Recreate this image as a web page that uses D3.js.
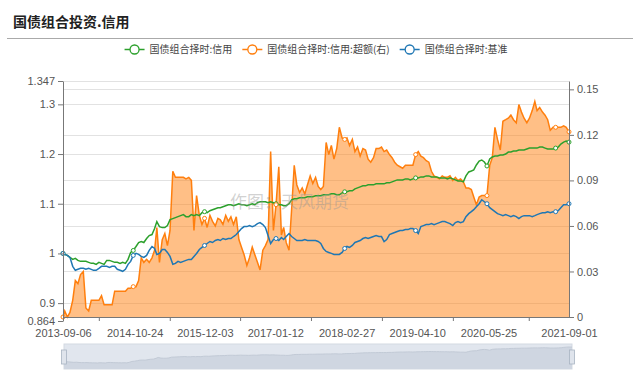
<!DOCTYPE html>
<html>
<head>
<meta charset="utf-8">
<script src="https://cdn.jsdelivr.net/npm/d3@7"></script>
<style>
  body { margin: 0; background: #fff; }
  svg { display: block; font-family: "Liberation Sans", Arial, sans-serif; }
  .axis text { fill: #555; font-size: 11px; }
  .axis line, .axis path { stroke: #777; }
</style>
</head>
<body>
<svg id="chart" width="640" height="374"></svg>
<script>
var title = '国债组合投资.信用';
var seriesNames = ['国债组合择时:信用', '国债组合择时:信用:超额(右)', '国债组合择时:基准'];
var seriesColors = ['#2ca02c', '#ff7f0e', '#1f77b4'];
var watermark = '作图：天风期货';

// half-monthly samples
var dates = [
  "2013-09-06","2013-09-16","2013-10-01","2013-10-16","2013-11-01","2013-11-16","2013-12-01","2013-12-16",
  "2014-01-01","2014-01-16","2014-02-01","2014-02-16","2014-03-01","2014-03-16","2014-04-01","2014-04-16","2014-05-01","2014-05-16","2014-06-01","2014-06-16",
  "2014-07-01","2014-07-16","2014-08-01","2014-08-16","2014-09-01","2014-09-16","2014-10-01","2014-10-16","2014-11-01","2014-11-16","2014-12-01","2014-12-16",
  "2015-01-01","2015-01-16","2015-02-01","2015-02-16","2015-03-01","2015-03-16","2015-04-01","2015-04-16","2015-05-01","2015-05-16","2015-06-01","2015-06-16",
  "2015-07-01","2015-07-16","2015-08-01","2015-08-16","2015-09-01","2015-09-16","2015-10-01","2015-10-16","2015-11-01","2015-11-16","2015-12-01","2015-12-16",
  "2016-01-01","2016-01-16","2016-02-01","2016-02-16","2016-03-01","2016-03-16","2016-04-01","2016-04-16","2016-05-01","2016-05-16","2016-06-01","2016-06-16",
  "2016-07-01","2016-07-16","2016-08-01","2016-08-16","2016-09-01","2016-09-16","2016-10-01","2016-10-16","2016-11-01","2016-11-16","2016-12-01","2016-12-16",
  "2017-01-01","2017-01-16","2017-02-01","2017-02-16","2017-03-01","2017-03-16","2017-04-01","2017-04-16","2017-05-01","2017-05-16","2017-06-01","2017-06-16",
  "2017-07-01","2017-07-16","2017-08-01","2017-08-16","2017-09-01","2017-09-16","2017-10-01","2017-10-16","2017-11-01","2017-11-16","2017-12-01","2017-12-16",
  "2018-01-01","2018-01-16","2018-02-01","2018-02-16","2018-03-01","2018-03-16","2018-04-01","2018-04-16","2018-05-01","2018-05-16","2018-06-01","2018-06-16",
  "2018-07-01","2018-07-16","2018-08-01","2018-08-16","2018-09-01","2018-09-16","2018-10-01","2018-10-16","2018-11-01","2018-11-16","2018-12-01","2018-12-16",
  "2019-01-01","2019-01-16","2019-02-01","2019-02-16","2019-03-01","2019-03-16","2019-04-01","2019-04-16","2019-05-01","2019-05-16","2019-06-01","2019-06-16",
  "2019-07-01","2019-07-16","2019-08-01","2019-08-16","2019-09-01","2019-09-16","2019-10-01","2019-10-16","2019-11-01","2019-11-16","2019-12-01","2019-12-16",
  "2020-01-01","2020-01-16","2020-02-01","2020-02-16","2020-03-01","2020-03-16","2020-04-01","2020-04-16","2020-05-01","2020-05-16","2020-06-01","2020-06-16",
  "2020-07-01","2020-07-16","2020-08-01","2020-08-16","2020-09-01","2020-09-16","2020-10-01","2020-10-16","2020-11-01","2020-11-16","2020-12-01","2020-12-16",
  "2021-01-01","2021-01-16","2021-02-01","2021-02-16","2021-03-01","2021-03-16","2021-04-01","2021-04-16","2021-05-01","2021-05-16","2021-06-01","2021-06-16",
  "2021-07-01","2021-07-16","2021-08-01","2021-08-16","2021-09-01"
];

var credit = [
  1.000,0.998,0.996,0.992,0.988,0.990,0.986,0.984,0.984,0.984,
  0.982,0.980,0.980,0.978,0.982,0.980,0.978,0.986,0.986,0.984,
  0.982,0.982,0.980,0.982,0.980,0.988,1.002,1.006,1.014,1.022,
  1.024,1.022,1.030,1.036,1.038,1.050,1.064,1.054,1.052,1.052,
  1.056,1.068,1.070,1.072,1.074,1.076,1.078,1.074,1.074,1.078,
  1.076,1.078,1.076,1.082,1.084,1.082,1.086,1.088,1.090,1.092,
  1.092,1.094,1.096,1.098,1.098,1.096,1.098,1.100,1.098,1.098,
  1.096,1.098,1.100,1.098,1.102,1.104,1.104,1.104,1.102,1.104,
  1.102,1.100,1.098,1.098,1.096,1.096,1.100,1.108,1.110,1.110,
  1.112,1.112,1.112,1.114,1.114,1.114,1.116,1.116,1.116,1.118,
  1.118,1.118,1.120,1.120,1.118,1.118,1.122,1.124,1.124,1.126,
  1.126,1.130,1.132,1.134,1.136,1.136,1.138,1.138,1.138,1.140,
  1.140,1.140,1.140,1.142,1.142,1.144,1.146,1.148,1.148,1.148,
  1.150,1.150,1.148,1.150,1.152,1.152,1.154,1.154,1.156,1.156,
  1.154,1.154,1.154,1.152,1.152,1.152,1.150,1.152,1.150,1.148,
  1.146,1.146,1.144,1.156,1.164,1.166,1.168,1.178,1.186,1.188,
  1.184,1.176,1.190,1.194,1.196,1.196,1.198,1.198,1.200,1.204,
  1.204,1.206,1.206,1.208,1.208,1.208,1.210,1.212,1.212,1.212,
  1.212,1.214,1.214,1.212,1.210,1.210,1.210,1.212,1.214,1.220,
  1.224,1.226,1.224
];

var excess = [
  0.000,0.004,0.000,0.003,0.011,0.024,0.022,0.028,0.030,0.006,
  0.004,0.011,0.011,0.011,0.011,0.014,0.008,0.008,0.008,0.008,
  0.017,0.017,0.017,0.017,0.017,0.019,0.019,0.020,0.020,0.024,
  0.039,0.036,0.038,0.036,0.039,0.044,0.059,0.036,0.051,0.055,
  0.047,0.057,0.096,0.092,0.092,0.092,0.092,0.091,0.092,0.090,
  0.057,0.080,0.067,0.061,0.065,0.059,0.067,0.063,0.060,0.065,
  0.064,0.061,0.067,0.063,0.066,0.061,0.066,0.051,0.046,0.041,
  0.034,0.039,0.046,0.041,0.036,0.031,0.044,0.047,0.051,0.109,
  0.057,0.074,0.099,0.054,0.059,0.049,0.044,0.071,0.100,0.087,
  0.082,0.085,0.081,0.087,0.093,0.088,0.092,0.086,0.084,0.086,
  0.115,0.107,0.113,0.104,0.111,0.125,0.118,0.117,0.118,0.113,
  0.117,0.109,0.112,0.106,0.111,0.110,0.104,0.102,0.105,0.111,
  0.111,0.112,0.109,0.110,0.107,0.105,0.102,0.100,0.099,0.098,
  0.100,0.100,0.100,0.100,0.107,0.109,0.106,0.105,0.103,0.102,
  0.096,0.093,0.092,0.091,0.093,0.092,0.092,0.093,0.090,0.092,
  0.090,0.091,0.089,0.085,0.085,0.084,0.079,0.074,0.079,0.080,
  0.080,0.080,0.100,0.105,0.125,0.117,0.110,0.129,0.130,0.131,
  0.133,0.130,0.128,0.140,0.135,0.131,0.128,0.131,0.136,0.142,
  0.136,0.138,0.135,0.133,0.130,0.123,0.125,0.125,0.125,0.125,
  0.126,0.125,0.122
];

var bench = [
  1.000,0.998,0.996,0.992,0.974,0.966,0.968,0.970,0.970,0.968,
  0.970,0.968,0.966,0.966,0.970,0.974,0.974,0.974,0.972,0.974,
  0.974,0.968,0.966,0.964,0.968,0.978,0.984,0.996,1.000,0.998,
  0.994,0.992,0.996,1.006,1.014,1.010,0.998,1.000,1.008,1.008,
  1.002,0.994,0.978,0.980,0.984,0.982,0.984,0.986,0.988,0.988,
  0.994,1.000,1.008,1.012,1.016,1.020,1.024,1.022,1.026,1.028,
  1.026,1.030,1.028,1.030,1.030,1.034,1.038,1.044,1.050,1.054,
  1.054,1.056,1.054,1.056,1.060,1.062,1.058,1.052,1.036,1.020,
  1.028,1.030,1.026,1.032,1.028,1.034,1.040,1.034,1.030,1.026,
  1.026,1.026,1.028,1.026,1.026,1.026,1.026,1.024,1.020,1.010,
  1.004,1.002,1.000,0.998,0.998,0.998,1.002,1.010,1.014,1.012,
  1.016,1.022,1.024,1.026,1.030,1.032,1.030,1.032,1.034,1.036,
  1.034,1.034,1.024,1.028,1.038,1.040,1.042,1.044,1.046,1.046,
  1.048,1.048,1.050,1.050,1.046,1.040,1.054,1.056,1.058,1.058,
  1.060,1.058,1.060,1.062,1.064,1.064,1.062,1.060,1.056,1.062,
  1.064,1.062,1.064,1.074,1.080,1.084,1.088,1.094,1.100,1.108,
  1.104,1.100,1.092,1.088,1.084,1.080,1.078,1.076,1.078,1.076,
  1.074,1.076,1.074,1.070,1.074,1.076,1.076,1.076,1.074,1.076,
  1.078,1.080,1.082,1.082,1.084,1.082,1.084,1.084,1.086,1.092,
  1.098,1.098,1.100
];

var xLabels = ["2013-09-06","2014-10-24","2015-12-03","2017-01-12","2018-02-27","2019-04-10","2020-05-25","2021-09-01"];
var leftTicks = [0.864, 0.9, 1, 1.1, 1.2, 1.3, 1.347];
var rightTicks = [0, 0.03, 0.06, 0.09, 0.12, 0.15];
var leftDomain = [0.864, 1.347];
var rightDomain = [0, 0.1555];
var symbolIdx = [0, 27, 54, 81, 107, 134, 161, 187, 192];

var svg = d3.select('#chart');
var parse = d3.timeParse('%Y-%m-%d');
var dts = dates.map(parse);

var plotL = 63, plotR = 569, plotT = 81;
var x = d3.scaleTime().domain([dts[0], dts[dts.length - 1]]).range([plotL, plotR]);
var yL = d3.scaleLinear().domain(leftDomain).range([321, plotT]);
var yR = d3.scaleLinear().domain(rightDomain).range([317, plotT]);

// title
svg.append('text')
  .attr('x', 13).attr('y', 27)
  .style('font-family', '"Noto Sans CJK SC", sans-serif')
  .style('font-weight', 'bold')
  .style('font-size', '14px')
  .attr('fill', '#222')
  .text(title);
svg.append('line')
  .attr('x1', 7).attr('x2', 633).attr('y1', 38.5).attr('y2', 38.5)
  .attr('stroke', '#aaa').attr('stroke-width', 1.2);

// legend
var legend = svg.append('g').style('font-family', '"Noto Sans CJK SC", sans-serif').style('font-size', '10px');
var items = legend.selectAll('g.item').data(seriesNames).enter().append('g').classed('item', true);
items.append('line').attr('x1', 0).attr('x2', 20).attr('y1', 0).attr('y2', 0)
  .attr('stroke', function (d, i) { return seriesColors[i]; }).attr('stroke-width', 1.5);
items.append('circle').attr('cx', 10).attr('cy', 0).attr('r', 4.5)
  .attr('fill', '#fff').attr('stroke', function (d, i) { return seriesColors[i]; }).attr('stroke-width', 1.3);
items.append('text').attr('x', 25).attr('y', 3.5).attr('fill', '#444').text(function (d) { return d; });
var widths = [];
items.each(function () { widths.push(this.getBBox().width); });
var total = d3.sum(widths) + 10 * (widths.length - 1);
var cursor = 316 - total / 2;
items.attr('transform', function (d, i) {
  var t = 'translate(' + cursor + ',49.5)';
  cursor += widths[i] + 10;
  return t;
});

// grid
var grid = svg.append('g');
grid.selectAll('line.gl').data(leftTicks.slice(1)).enter().append('line')
  .attr('x1', plotL).attr('x2', plotR)
  .attr('y1', function (d) { return Math.round(yL(d)) + 0.5; })
  .attr('y2', function (d) { return Math.round(yL(d)) + 0.5; })
  .attr('stroke', '#e2e2e2');
grid.selectAll('line.gr').data(rightTicks.slice(1)).enter().append('line')
  .attr('x1', plotL).attr('x2', plotR)
  .attr('y1', function (d) { return Math.round(yR(d)) + 0.5; })
  .attr('y2', function (d) { return Math.round(yR(d)) + 0.5; })
  .attr('stroke', '#e2e2e2');

// excess area + line (right axis)
var area = d3.area()
  .x(function (d, i) { return x(dts[i]); })
  .y0(yR(0))
  .y1(function (d) { return yR(d); });
svg.append('path').datum(excess).attr('d', area)
  .attr('fill', seriesColors[1]).attr('fill-opacity', 0.5);

function lineFor(scale) {
  return d3.line().x(function (d, i) { return x(dts[i]); }).y(function (d) { return scale(d); });
}
svg.append('path').datum(excess).attr('d', lineFor(yR))
  .attr('fill', 'none').attr('stroke', seriesColors[1]).attr('stroke-width', 1.5);
svg.append('path').datum(credit).attr('d', lineFor(yL))
  .attr('fill', 'none').attr('stroke', seriesColors[0]).attr('stroke-width', 1.5);
svg.append('path').datum(bench).attr('d', lineFor(yL))
  .attr('fill', 'none').attr('stroke', seriesColors[2]).attr('stroke-width', 1.5);

// sparse symbols
[[credit, yL, 0], [excess, yR, 1], [bench, yL, 2]].forEach(function (s) {
  svg.append('g').selectAll('circle').data(symbolIdx).enter().append('circle')
    .attr('cx', function (i) { return x(dts[i]); })
    .attr('cy', function (i) { return s[1](s[0][i]); })
    .attr('r', 2)
    .attr('fill', '#fff')
    .attr('stroke', seriesColors[s[2]]).attr('stroke-width', 1);
});

// axes
var fmt = function (d) { return String(d); };
svg.append('g').classed('axis', true)
  .attr('transform', 'translate(' + plotL + ',0)')
  .call(d3.axisLeft(yL).tickValues(leftTicks).tickFormat(fmt).tickSize(5).tickSizeOuter(0));
svg.append('g').classed('axis', true)
  .attr('transform', 'translate(' + plotR + ',0)')
  .call(d3.axisRight(yR).tickValues(rightTicks).tickFormat(fmt).tickSize(5).tickSizeOuter(0));

var labelDates = xLabels.map(parse);
var tickDates = d3.pairs(labelDates).map(function (p) { return new Date((+p[0] + +p[1]) / 2); });
svg.append('g').classed('axis', true)
  .attr('transform', 'translate(0,317)')
  .call(d3.axisBottom(x).tickValues(tickDates).tickFormat('').tickSize(4).tickSizeOuter(0));
var xl = svg.append('g').classed('axis', true)
  .attr('transform', 'translate(0,317)')
  .call(d3.axisBottom(x).tickValues(labelDates).tickFormat(d3.timeFormat('%Y-%m-%d')).tickSize(0).tickPadding(12));
xl.select('.domain').remove();

// watermark
svg.append('text')
  .attr('x', 230).attr('y', 208)
  .style('font-family', '"Noto Sans CJK SC", sans-serif')
  .style('font-size', '17px')
  .attr('fill', '#999').attr('fill-opacity', 0.45)
  .text(watermark);

// data zoom slider
var sl = { x0: 64, x1: 572, y0: 344, y1: 369 };
var sx = d3.scaleTime().domain(x.domain()).range([sl.x0, sl.x1]);
var sy = d3.scaleLinear().domain(d3.extent(credit)).range([sl.y1 - 6, sl.y0 + 3]);
svg.append('rect')
  .attr('x', sl.x0).attr('y', sl.y0).attr('width', sl.x1 - sl.x0).attr('height', sl.y1 - sl.y0)
  .attr('fill', '#e1e6ee').attr('stroke', '#d3d9e2');
svg.append('path').datum(credit)
  .attr('d', d3.area().x(function (d, i) { return sx(dts[i]); }).y0(sl.y1).y1(function (d) { return sy(d); }))
  .attr('fill', '#cfd6e1');
svg.append('path').datum(credit)
  .attr('d', d3.line().x(function (d, i) { return sx(dts[i]); }).y(function (d) { return sy(d); }))
  .attr('fill', 'none').attr('stroke', '#c2cad6');
svg.selectAll('rect.handle').data([sl.x0, sl.x1]).enter().append('rect')
  .classed('handle', true)
  .attr('x', function (d) { return d - 2.5; }).attr('y', 350).attr('width', 5).attr('height', 14)
  .attr('fill', '#dfe4ec').attr('stroke', '#a9b3c2').attr('stroke-width', 0.8);
</script>
</body>
</html>
